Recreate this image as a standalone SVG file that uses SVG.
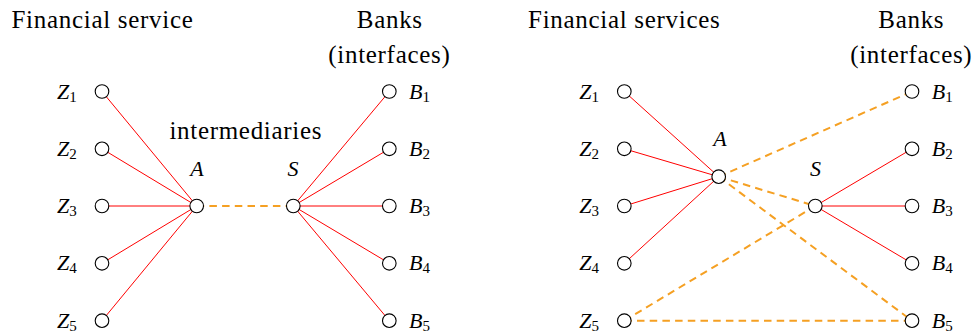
<svg xmlns="http://www.w3.org/2000/svg" width="972" height="333" viewBox="0 0 972 333">
<defs>
  <circle id="nd" r="6.8" fill="#fff" stroke="#000" stroke-width="1.1"/>
</defs>
<rect width="972" height="333" fill="#fff"/>

<!-- Titles -->
<g id="titles" font-family="Liberation Serif" font-size="25" fill="#000" text-anchor="middle" letter-spacing="0.7">
<text x="102.5" y="28">Financial service</text>
<text x="389.8" y="28">Banks</text>
<text x="389.4" y="63">(interfaces)</text>
<text x="245.8" y="139">intermediaries</text>
<text x="624.3" y="28">Financial services</text>
<text x="911.3" y="28">Banks</text>
<text x="911.3" y="63">(interfaces)</text>
</g>

<!-- Connectors -->
<g id="connectors" fill="none">
 <g stroke="#ff0000" stroke-width="1">
  <line x1="102" y1="91.5" x2="196.7" y2="206"/>
  <line x1="102" y1="148.8" x2="196.7" y2="206"/>
  <line x1="102" y1="206" x2="196.7" y2="206"/>
  <line x1="102" y1="263.3" x2="196.7" y2="206"/>
  <line x1="102" y1="320.7" x2="196.7" y2="206"/>
  <line x1="293.3" y1="206" x2="389.3" y2="91.5"/>
  <line x1="293.3" y1="206" x2="389.3" y2="148.8"/>
  <line x1="293.3" y1="206" x2="389.3" y2="206"/>
  <line x1="293.3" y1="206" x2="389.3" y2="263.3"/>
  <line x1="293.3" y1="206" x2="389.3" y2="320.7"/>
  <line x1="624.3" y1="91.5" x2="718.7" y2="176.7"/>
  <line x1="624.3" y1="148.8" x2="718.7" y2="176.7"/>
  <line x1="624.3" y1="206" x2="718.7" y2="176.7"/>
  <line x1="624.3" y1="263.3" x2="718.7" y2="176.7"/>
  <line x1="815.3" y1="206" x2="912" y2="148.8"/>
  <line x1="815.3" y1="206" x2="912" y2="206"/>
  <line x1="815.3" y1="206" x2="912" y2="263.3"/>
 </g>
 <g stroke="#f5a023" stroke-width="2" stroke-dasharray="7.5 5.2">
  <line x1="196.7" y1="206" x2="293.3" y2="206"/>
  <line x1="718.7" y1="176.7" x2="912" y2="91.5"/>
  <line x1="718.7" y1="176.7" x2="815.3" y2="206"/>
  <line x1="718.7" y1="176.7" x2="912" y2="320.7"/>
  <line x1="624.3" y1="320.7" x2="815.3" y2="206"/>
  <line x1="624.3" y1="320.7" x2="912" y2="320.7"/>
 </g>
</g>

<!-- Left diagram nodes -->
<g id="left-nodes" font-family="Liberation Serif" font-size="22" font-style="italic" fill="#000">
<g id="L-Z1"><use href="#nd" x="102" y="91.5"/><text x="57" y="98.5">Z<tspan font-style="normal" font-size="15" dy="3">1</tspan></text></g>
<g id="L-Z2"><use href="#nd" x="102" y="148.8"/><text x="57" y="155.8">Z<tspan font-style="normal" font-size="15" dy="3">2</tspan></text></g>
<g id="L-Z3"><use href="#nd" x="102" y="206"/><text x="57" y="213">Z<tspan font-style="normal" font-size="15" dy="3">3</tspan></text></g>
<g id="L-Z4"><use href="#nd" x="102" y="263.3"/><text x="57" y="270.3">Z<tspan font-style="normal" font-size="15" dy="3">4</tspan></text></g>
<g id="L-Z5"><use href="#nd" x="102" y="320.7"/><text x="57" y="327.7">Z<tspan font-style="normal" font-size="15" dy="3">5</tspan></text></g>
<g id="L-A"><use href="#nd" x="196.7" y="206"/><text x="197" y="176" text-anchor="middle">A</text></g>
<g id="L-S"><use href="#nd" x="293.3" y="206"/><text x="293" y="176" text-anchor="middle">S</text></g>
<g id="L-B1"><use href="#nd" x="389.3" y="91.5"/><text x="409" y="98.5">B<tspan font-style="normal" font-size="15" dy="3">1</tspan></text></g>
<g id="L-B2"><use href="#nd" x="389.3" y="148.8"/><text x="409" y="155.8">B<tspan font-style="normal" font-size="15" dy="3">2</tspan></text></g>
<g id="L-B3"><use href="#nd" x="389.3" y="206"/><text x="409" y="213">B<tspan font-style="normal" font-size="15" dy="3">3</tspan></text></g>
<g id="L-B4"><use href="#nd" x="389.3" y="263.3"/><text x="409" y="270.3">B<tspan font-style="normal" font-size="15" dy="3">4</tspan></text></g>
<g id="L-B5"><use href="#nd" x="389.3" y="320.7"/><text x="409" y="327.7">B<tspan font-style="normal" font-size="15" dy="3">5</tspan></text></g>
</g>

<!-- Right diagram nodes -->
<g id="right-nodes" font-family="Liberation Serif" font-size="22" font-style="italic" fill="#000">
<g id="R-Z1"><use href="#nd" x="624.3" y="91.5"/><text x="579.3" y="98.5">Z<tspan font-style="normal" font-size="15" dy="3">1</tspan></text></g>
<g id="R-Z2"><use href="#nd" x="624.3" y="148.8"/><text x="579.3" y="155.8">Z<tspan font-style="normal" font-size="15" dy="3">2</tspan></text></g>
<g id="R-Z3"><use href="#nd" x="624.3" y="206"/><text x="579.3" y="213">Z<tspan font-style="normal" font-size="15" dy="3">3</tspan></text></g>
<g id="R-Z4"><use href="#nd" x="624.3" y="263.3"/><text x="579.3" y="270.3">Z<tspan font-style="normal" font-size="15" dy="3">4</tspan></text></g>
<g id="R-Z5"><use href="#nd" x="624.3" y="320.7"/><text x="579.3" y="327.7">Z<tspan font-style="normal" font-size="15" dy="3">5</tspan></text></g>
<g id="R-A"><use href="#nd" x="718.7" y="176.7"/><text x="720" y="146" text-anchor="middle">A</text></g>
<g id="R-S"><use href="#nd" x="815.3" y="206"/><text x="815.5" y="176" text-anchor="middle">S</text></g>
<g id="R-B1"><use href="#nd" x="912" y="91.5"/><text x="931.7" y="98.5">B<tspan font-style="normal" font-size="15" dy="3">1</tspan></text></g>
<g id="R-B2"><use href="#nd" x="912" y="148.8"/><text x="931.7" y="155.8">B<tspan font-style="normal" font-size="15" dy="3">2</tspan></text></g>
<g id="R-B3"><use href="#nd" x="912" y="206"/><text x="931.7" y="213">B<tspan font-style="normal" font-size="15" dy="3">3</tspan></text></g>
<g id="R-B4"><use href="#nd" x="912" y="263.3"/><text x="931.7" y="270.3">B<tspan font-style="normal" font-size="15" dy="3">4</tspan></text></g>
<g id="R-B5"><use href="#nd" x="912" y="320.7"/><text x="931.7" y="327.7">B<tspan font-style="normal" font-size="15" dy="3">5</tspan></text></g>
</g>
</svg>
